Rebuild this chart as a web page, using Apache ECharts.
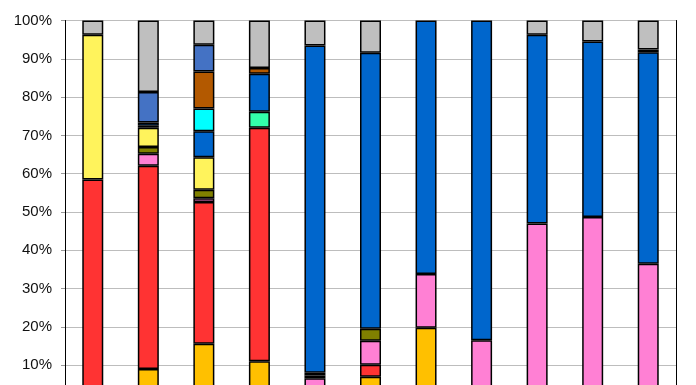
<!DOCTYPE html>
<html>
<head>
<meta charset="utf-8">
<script src="https://cdn.jsdelivr.net/npm/echarts@6/dist/echarts.min.js"></script>
<style>
html,body{margin:0;padding:0;background:#fff;}
#chart{width:696px;height:385px;}
</style>
</head>
<body>
<div id="chart"></div>
<script>
const categories = ['1','2','3','4','5','6','7','8','9','10','11'];
const yTicks = [0,10,20,30,40,50,60,70,80,90,100];

const gold     = [null, 9.0, 15.6, 11.0, null, 7.0, 19.8, null, null, null, null];
const red      = [58.5, 53.1, 37.0, 61.0, null, 3.1, null, null, null, null, null];
const pink     = [null, 3.1, 1.0, null, 6.6, 6.3, 14.0, 16.5, 47.0, 48.7, 36.5];
const olive    = [null, 1.8, 2.2, null, 0.7, 3.1, null, null, null, null, null];
const yellow   = [37.8, 5.0, 8.5, null, 0.7, null, null, null, null, null, null];
const seafoam  = [null, 0.5, null, 4.2, null, null, null, null, null, null, null];
const blue     = [null, 0.9, 6.8, 9.9, 85.5, 72.1, 66.2, 83.5, 49.3, 45.8, 55.2];
const cyan     = [null, null, 5.9, null, null, null, null, null, null, null, null];
const brown    = [null, null, 9.7, 1.5, null, null, null, null, null, null, null];
const medBlue  = [null, 7.9, 7.0, null, null, null, null, null, null, null, 0.7];
const gray     = [3.7, 18.7, 6.3, 12.4, 6.5, 8.4, null, null, 3.7, 5.5, 7.6];

const seriesDefs = [
  ['gold', gold, '#FFC000'],
  ['red', red, '#FF3333'],
  ['pink', pink, '#FF80D4'],
  ['olive', olive, '#808000'],
  ['yellow', yellow, '#FFF35C'],
  ['seafoam', seafoam, '#33FFAA'],
  ['blue', blue, '#0066CC'],
  ['cyan', cyan, '#00FFFF'],
  ['brown', brown, '#B35900'],
  ['medBlue', medBlue, '#4472C4'],
  ['gray', gray, '#BFBFBF']
];

const chart = echarts.init(document.getElementById('chart'), null, {renderer: 'canvas'});
chart.setOption({
  animation: false,
  backgroundColor: '#fff',
  grid: {left: 65, right: 20, top: 20.5, height: 383, containLabel: false, outerBoundsMode: 'none'},
  xAxis: [{
    type: 'category', data: categories,
    axisLine: {show: true, lineStyle: {color: '#000'}},
    axisTick: {show: false},
    axisLabel: {show: false}
  }, {
    type: 'category', data: categories, position: 'top',
    axisLine: {show: true, lineStyle: {color: '#000', width: 1}},
    axisTick: {show: false}, axisLabel: {show: false}
  }],
  yAxis: [{
    type: 'value', min: yTicks[0], max: yTicks[yTicks.length-1], interval: 10,
    axisLine: {show: true, lineStyle: {color: '#000'}},
    axisTick: {show: true, length: 4, lineStyle: {color: '#999'}},
    axisLabel: {
      formatter: '{value}%', color: '#111', fontSize: 15, margin: 13,
      fontFamily: 'Liberation Sans, Arial, sans-serif'
    },
    splitLine: {show: true, lineStyle: {color: '#BDBDBD', width: 1}}
  }, {
    type: 'value', min: 0, max: 100, interval: 10, position: 'right',
    axisLine: {show: true, lineStyle: {color: '#000'}},
    axisTick: {show: false}, axisLabel: {show: false}, splitLine: {show: false}
  }],
  series: seriesDefs.map(([name, data, color]) => ({
    name, type: 'bar', stack: 'total', data,
    barWidth: 21,
    itemStyle: {color, borderColor: '#000', borderWidth: 1.5}
  }))
});
</script>
</body>
</html>
